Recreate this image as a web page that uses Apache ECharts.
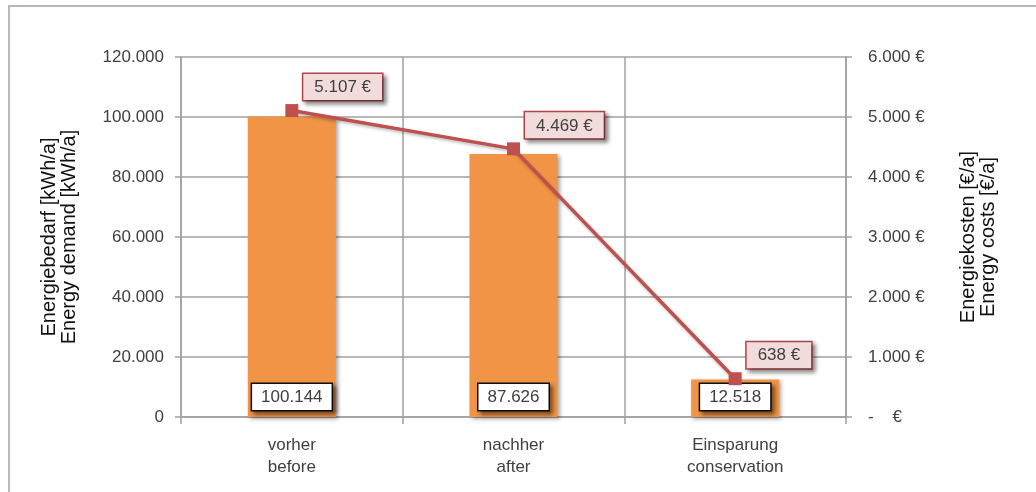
<!DOCTYPE html>
<html>
<head>
<meta charset="utf-8">
<script src="https://cdn.jsdelivr.net/npm/echarts@6/dist/echarts.min.js"></script>
<style>
  html, body { margin: 0; padding: 0; background: #fff; }
  #chart { width: 1036px; height: 492px; }
</style>
</head>
<body>
<div id="chart"></div>
<script>
// Categories (German / English)
const categories = ['vorher\nbefore', 'nachher\nafter', 'Einsparung\nconservation'];
// Energy demand in kWh per year
const energyDemand = [100144, 87626, 12518];
// Energy costs in euro per year
const energyCosts = [5107, 4469, 638];

const demandTicks = { min: 0, max: 120000, interval: 20000 };
const costTicks = { min: 0, max: 6000, interval: 1000 };

const FONT = 'Liberation Sans';
const TEXT = '#404040';
const GRID = '#a0a0a0';

// German thousands separator
function de(n) {
  return String(Math.round(n)).replace(/\B(?=(\d{3})+(?!\d))/g, '.');
}

const chart = echarts.init(document.getElementById('chart'), null, { renderer: 'canvas' });

chart.setOption({
  animation: false,
  backgroundColor: '#fff',
  textStyle: { fontFamily: FONT },
  graphic: [{
    type: 'rect',
    shape: { x: 9, y: 6, width: 1100, height: 600 },
    style: { fill: 'none', stroke: '#b4bab4', lineWidth: 2 },
    silent: true,
    z: -10
  }],
  grid: { left: 181, right: 190, top: 57, bottom: 75 },
  xAxis: {
    type: 'category',
    data: categories,
    boundaryGap: true,
    axisLine: { show: true, lineStyle: { color: GRID, width: 1.5 } },
    axisTick: { show: true, length: 7, lineStyle: { color: GRID, width: 1.5 } },
    splitLine: { show: true, lineStyle: { color: GRID, width: 1.5 } },
    axisLabel: { color: TEXT, fontSize: 17, fontFamily: FONT, lineHeight: 22, margin: 17 }
  },
  yAxis: [{
    type: 'value',
    min: demandTicks.min, max: demandTicks.max, interval: demandTicks.interval,
    name: 'Energiebedarf [kWh/a]\nEnergy demand [kWh/a]',
    nameLocation: 'middle',
    nameGap: 102,
    nameTextStyle: { color: '#111', fontSize: 20, fontFamily: FONT, lineHeight: 20 },
    axisLine: { show: true, lineStyle: { color: GRID, width: 1.5 } },
    axisTick: { show: true, length: 6, lineStyle: { color: GRID, width: 1.5 } },
    splitLine: { show: true, lineStyle: { color: GRID, width: 1.5 } },
    axisLabel: { color: TEXT, fontSize: 17, fontFamily: FONT, margin: 17, formatter: v => de(v) }
  }, {
    type: 'value',
    position: 'right',
    min: costTicks.min, max: costTicks.max, interval: costTicks.interval,
    name: 'Energiekosten [€/a]\nEnergy costs [€/a]',
    nameLocation: 'middle',
    nameGap: 112,
    nameTextStyle: { color: '#111', fontSize: 20, fontFamily: FONT, lineHeight: 20 },
    axisLine: { show: true, lineStyle: { color: GRID, width: 1.5 } },
    axisTick: { show: true, length: 6, lineStyle: { color: GRID, width: 1.5 } },
    splitLine: { show: false },
    axisLabel: {
      color: TEXT, fontSize: 17, fontFamily: FONT, margin: 22,
      formatter: v => v === 0 ? '-    €' : de(v) + ' €'
    }
  }],
  series: [{
    type: 'bar',
    name: 'Energiebedarf',
    yAxisIndex: 0,
    data: energyDemand,
    barWidth: 88,
    itemStyle: {
      color: '#f19446',
      shadowColor: 'rgba(0,0,0,0.35)', shadowBlur: 4, shadowOffsetX: 2, shadowOffsetY: 2
    },
    label: {
      show: true,
      position: 'insideBottom',
      distance: 7,
      formatter: p => de(p.value),
      color: TEXT, fontSize: 17, fontFamily: FONT,
      backgroundColor: '#fff',
      borderColor: '#111', borderWidth: 1.5,
      padding: [5, 9, 4, 9],
      shadowColor: 'rgba(0,0,0,0.45)', shadowBlur: 4, shadowOffsetX: 3, shadowOffsetY: 3
    },
    z: 2
  }, {
    type: 'line',
    name: 'Energiekosten',
    yAxisIndex: 1,
    data: energyCosts,
    symbol: 'rect',
    symbolSize: 13,
    lineStyle: { color: '#c0504d', width: 3.5,
      shadowColor: 'rgba(0,0,0,0.25)', shadowBlur: 3, shadowOffsetX: 1, shadowOffsetY: 2 },
    itemStyle: { color: '#c0504d' },
    label: {
      show: true,
      position: [18, -30],
      formatter: p => de(p.value) + ' €',
      color: TEXT, fontSize: 17, fontFamily: FONT,
      backgroundColor: '#f2dcdb',
      borderColor: '#b0484a', borderWidth: 1.5,
      padding: [5, 11, 4, 11],
      shadowColor: 'rgba(0,0,0,0.4)', shadowBlur: 4, shadowOffsetX: 3, shadowOffsetY: 3
    },
    z: 5
  }]
});
</script>
</body>
</html>
